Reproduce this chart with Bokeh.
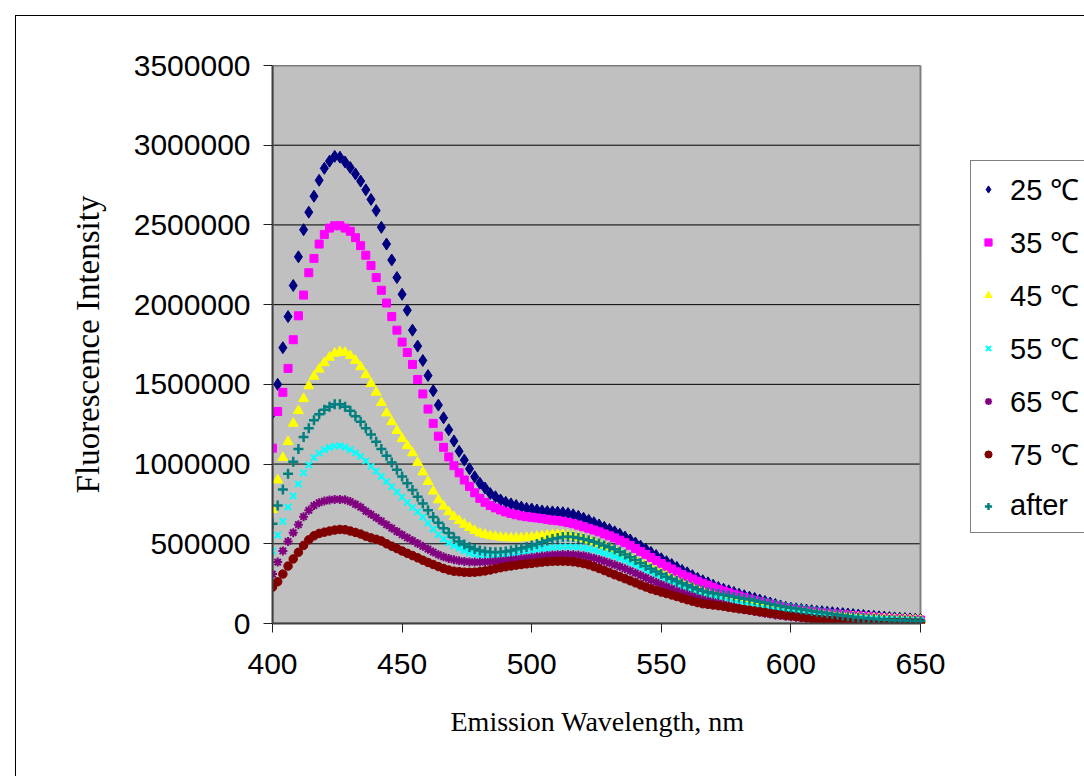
from bokeh.plotting import figure
from bokeh.models import (Range1d, FixedTicker, Legend, LegendItem, InlineStyleSheet,
                          ColumnDataSource, Title)
from bokeh.embed import file_html
from bokeh.resources import INLINE

# ---------------- data ----------------
wavelength_nm = list(range(400, 651, 2))

# fluorescence intensity, in thousands of counts, one value every 2 nm (400..650)
i_25C = [1320, 1500, 1730, 1925, 2120, 2300, 2470, 2580, 2680, 2780,
         2855, 2900, 2930, 2925, 2895, 2860, 2820, 2775, 2720, 2660,
         2590, 2485, 2380, 2280, 2170, 2065, 1965, 1840, 1740, 1650,
         1555, 1460, 1370, 1290, 1215, 1145, 1080, 1025, 970, 920,
         880, 850, 815, 795, 775, 760, 750, 740, 730, 722,
         718, 712, 706, 702, 700, 698, 695, 690, 682, 672,
         660, 647, 632, 618, 603, 590, 575, 560, 542, 524,
         505, 485, 466, 446, 426, 406, 388, 370, 352, 333,
         318, 300, 283, 268, 255, 240, 226, 215, 205, 195,
         184, 174, 165, 157, 147, 138, 128, 119, 110, 102,
         96, 92, 88, 84, 80, 76, 74, 71, 68, 65,
         62, 59, 56, 53, 50, 47, 45, 42, 40, 37,
         35, 33, 31, 29, 27, 25]

i_35C = [1100, 1330, 1450, 1600, 1780, 1930, 2060, 2200, 2290, 2380,
         2440, 2480, 2495, 2495, 2480, 2460, 2420, 2370, 2310, 2245,
         2170, 2090, 2010, 1925, 1840, 1765, 1700, 1625, 1530, 1440,
         1345, 1255, 1175, 1105, 1045, 990, 945, 900, 860, 820,
         785, 760, 740, 725, 712, 700, 690, 682, 675, 670,
         666, 662, 658, 652, 648, 645, 640, 633, 626, 617,
         607, 597, 586, 575, 562, 550, 537, 522, 507, 490,
         471, 452, 434, 414, 395, 376, 359, 342, 324, 307,
         293, 279, 265, 252, 240, 227, 215, 204, 193, 183,
         173, 163, 153, 145, 136, 128, 120, 112, 104, 97,
         91, 86, 82, 78, 74, 71, 68, 65, 62, 59,
         56, 53, 50, 47, 45, 42, 40, 37, 35, 33,
         31, 29, 27, 25, 23, 22]

i_45C = [715, 900, 1040, 1140, 1255, 1335, 1410, 1490, 1550, 1595,
         1635, 1670, 1695, 1705, 1700, 1680, 1650, 1610, 1560, 1505,
         1450, 1385, 1320, 1265, 1210, 1160, 1115, 1070, 1010, 950,
         890, 830, 775, 735, 700, 670, 645, 622, 602, 583,
         567, 558, 550, 545, 541, 538, 536, 536, 537, 539,
         542, 546, 550, 554, 557, 558, 557, 553, 547, 540,
         532, 522, 512, 500, 487, 473, 458, 443, 428, 412,
         396, 380, 363, 346, 329, 313, 297, 281, 266, 251,
         238, 225, 212, 200, 189, 178, 170, 162, 155, 147,
         140, 133, 126, 120, 114, 108, 102, 97, 92, 87,
         82, 78, 74, 70, 66, 62, 59, 56, 52, 49,
         46, 44, 41, 39, 36, 34, 32, 31, 29, 28,
         26, 25, 24, 22, 21, 20]

i_55C = [455, 555, 640, 730, 800, 875, 945, 995, 1040, 1068,
         1090, 1104, 1112, 1115, 1105, 1090, 1070, 1048, 1020, 985,
         955, 922, 890, 858, 825, 792, 760, 728, 700, 668,
         630, 592, 558, 530, 506, 487, 471, 456, 442, 433,
         428, 426, 426, 427, 429, 432, 437, 442, 448, 453,
         458, 463, 468, 472, 476, 479, 481, 482, 481, 479,
         475, 468, 460, 450, 440, 430, 420, 408, 394, 380,
         365, 350, 335, 320, 305, 290, 275, 261, 246, 232,
         219, 206, 194, 183, 172, 162, 153, 144, 136, 128,
         121, 114, 107, 101, 95, 89, 84, 79, 74, 70,
         66, 62, 59, 55, 52, 49, 46, 44, 41, 39,
         37, 35, 33, 31, 29, 28, 26, 25, 23, 22,
         21, 20, 19, 18, 17, 16]

i_65C = [310, 385, 455, 515, 570, 620, 670, 710, 740, 758,
         768, 775, 778, 778, 776, 765, 748, 730, 705, 685,
         664, 642, 620, 598, 577, 557, 538, 520, 502, 484,
         466, 448, 432, 418, 408, 400, 393, 389, 386, 385,
         385, 386, 388, 391, 393, 396, 399, 403, 407, 411,
         415, 419, 423, 427, 430, 432, 433, 433, 432, 429,
         425, 418, 410, 400, 390, 379, 368, 356, 343, 330,
         316, 302, 287, 272, 258, 244, 231, 218, 205, 193,
         182, 171, 161, 152, 143, 136, 128, 120, 112, 104,
         96, 89, 82, 76, 70, 64, 59, 54, 50, 46,
         42, 39, 36, 33, 30, 28, 26, 24, 22, 20,
         18, 17, 15, 14, 13, 12, 11, 10, 9, 9,
         8, 8, 7, 7, 6, 6]

i_75C = [228, 262, 310, 360, 405, 447, 490, 525, 550, 565,
         573, 580, 586, 590, 588, 580, 571, 561, 548, 537,
         528, 518, 500, 485, 470, 455, 440, 426, 412, 397,
         383, 370, 357, 345, 335, 328, 325, 322, 321, 322,
         325, 330, 336, 343, 350, 356, 361, 366, 370, 374,
         377, 381, 385, 388, 390, 391, 391, 390, 387, 382,
         376, 368, 357, 345, 332, 319, 306, 294, 281, 268,
         255, 242, 229, 217, 207, 197, 188, 179, 169, 159,
         149, 140, 131, 124, 120, 116, 112, 108, 102, 97,
         92, 88, 84, 79, 74, 70, 65, 60, 56, 52,
         48, 44, 40, 36, 32, 28, 25, 22, 20, 18,
         16, 14, 13, 12, 11, 10, 9, 9, 8, 8,
         7, 7, 6, 6, 5, 5]

i_after = [625, 740, 840, 940, 1015, 1095, 1170, 1225, 1275, 1312,
           1340, 1360, 1375, 1375, 1360, 1335, 1300, 1265, 1225, 1185,
           1140, 1095, 1052, 1010, 965, 922, 880, 838, 795, 752,
           710, 668, 632, 598, 568, 540, 515, 495, 480, 468,
           458, 452, 448, 447, 448, 452, 458, 465, 472, 480,
           489, 499, 510, 520, 530, 537, 542, 544, 542, 537,
           530, 522, 512, 502, 490, 478, 465, 450, 433, 416,
           398, 380, 361, 343, 326, 310, 293, 280, 266, 253,
           240, 228, 215, 205, 196, 190, 185, 180, 174, 168,
           162, 156, 150, 144, 137, 130, 123, 116, 110, 104,
           99, 94, 89, 84, 78, 73, 69, 65, 60, 55,
           50, 45, 41, 38, 35, 32, 29, 27, 24, 22,
           21, 20, 19, 18, 16, 15]

series_labels = ["25 \u2103", "35 \u2103", "45 \u2103", "55 \u2103",
                 "65 \u2103", "75 \u2103", "after"]
series_values = [i_25C, i_35C, i_45C, i_55C, i_65C, i_75C, i_after]

x_tick_values = [400, 450, 500, 550, 600, 650]
y_tick_values = [0, 500000, 1000000, 1500000, 2000000, 2500000, 3000000, 3500000]
y_tick_labels = ["0", "500000", "1000000", "1500000", "2000000", "2500000",
                 "3000000", "3500000"]
x_title = "Emission Wavelength, nm"
y_title = "Fluorescence Intensity"

UNIT = 1000  # values above are in thousands

# ---------------- layout geometry ----------------
W, H = 1084, 776
LEFT, TOP, BOTTOM = 272, 65, 153
PLOT_W = 648                      # width of the grey plot area
x_min, x_max = x_tick_values[0], x_tick_values[-1]
y_min, y_max = y_tick_values[0], y_tick_values[-1]
# the frame runs to the right edge so the legend can sit beside the plot area
x_view_end = x_min + (x_max - x_min) * (W - LEFT) / PLOT_W

p = figure(width=W, height=H, output_backend="svg", toolbar_location=None,
           x_range=Range1d(x_min, x_view_end), y_range=Range1d(y_min, y_max),
           min_border_left=LEFT, min_border_right=0,
           min_border_top=TOP, min_border_bottom=BOTTOM)

p.background_fill_color = "white"
p.border_fill_color = "white"
p.outline_line_color = None

# outer chart-area frame (top and left edges visible, the rest runs off the page)
p.stylesheets = [InlineStyleSheet(css="""
:host { overflow: hidden; }
:host::after { content: ""; position: absolute; left: 15px; top: 15px;
  right: -20px; bottom: -20px; border: 1px solid black; pointer-events: none;
  z-index: 50; }
""")]

# grey plot area, horizontal gridlines and its border
p.quad(left=[x_min], right=[x_max], bottom=[y_min], top=[y_max],
       fill_color="#C0C0C0", line_color=None)
p.segment(x0=[x_min] * len(y_tick_values), x1=[x_max] * len(y_tick_values),
          y0=y_tick_values, y1=y_tick_values, line_color="black", line_width=1)
p.quad(left=[x_min], right=[x_max], bottom=[y_min], top=[y_max],
       fill_color=None, line_color="#808080", line_width=2)

p.grid.visible = False

p.xaxis.ticker = FixedTicker(ticks=x_tick_values)
p.xaxis.bounds = (x_min, x_max)
p.yaxis.ticker = FixedTicker(ticks=y_tick_values)
p.yaxis.major_label_overrides = {v: s for v, s in zip(y_tick_values, y_tick_labels)}
p.xaxis.major_label_overrides = {v: str(v) for v in x_tick_values}

for ax in (p.xaxis[0], p.yaxis[0]):
    ax.axis_line_color = "#404040"
    ax.axis_line_width = 2
    ax.major_tick_line_color = "#202020"
    ax.major_tick_line_width = 1
    ax.major_tick_in = 0
    ax.major_tick_out = 9
    ax.minor_tick_line_color = None
    ax.major_label_text_font = "Liberation Sans"
    ax.major_label_text_font_size = "30px"
    ax.major_label_text_color = "black"
    ax.axis_label_text_font = "Liberation Serif"
    ax.axis_label_text_font_style = "normal"
    ax.axis_label_text_color = "black"

p.xaxis.major_label_standoff = 21

p.yaxis.axis_label = y_title
p.yaxis.axis_label_text_font_size = "33px"
p.yaxis.major_label_standoff = 13
p.yaxis.axis_label_standoff = 25

# x-axis title centred under the grey plot area (not under the whole frame)
x_title_font_px = 28
x_title_width_est = 292
x_title_offset = PLOT_W / 2 - x_title_width_est / 2
p.add_layout(Title(text=x_title, align="left", offset=x_title_offset,
                   text_font="Liberation Serif", text_font_size=f"{x_title_font_px}px",
                   text_font_style="normal", text_color="black", standoff=55),
             "below")

styles = [
    dict(marker="diamond", size=12, fill_color="#000080", line_color="#000080"),
    dict(marker="square", size=8, fill_color="#FF00FF", line_color="#FF00FF"),
    dict(marker="triangle", size=10, fill_color="#FFFF00", line_color="#FFFF00"),
    dict(marker="x", size=9, line_color="#00FFFF", line_width=2),
    dict(marker="asterisk", size=9, line_color="#800080", line_width=2),
    dict(marker="circle", size=8.5, fill_color="#800000", line_color="#800000"),
    dict(marker="cross", size=10, line_color="#008080", line_width=2.5),
]

items = []
for label, vals, st in zip(series_labels, series_values, styles):
    src = ColumnDataSource(dict(x=wavelength_nm, y=[v * UNIT for v in vals]))
    r = p.scatter("x", "y", source=src, **st)
    items.append(LegendItem(label=label, renderers=[r]))

legend = Legend(items=items, location=(698, 90), orientation="vertical",
                label_text_font="Liberation Sans", label_text_font_size="29px",
                label_text_color="black", label_height=37, glyph_height=18,
                glyph_width=18, spacing=14, padding=8, margin=0,
                label_standoff=13, label_width=110,
                border_line_color="black", border_line_width=1,
                background_fill_color="white", background_fill_alpha=1.0)
p.add_layout(legend)

open("out.html", "w").write(file_html(p, INLINE))
